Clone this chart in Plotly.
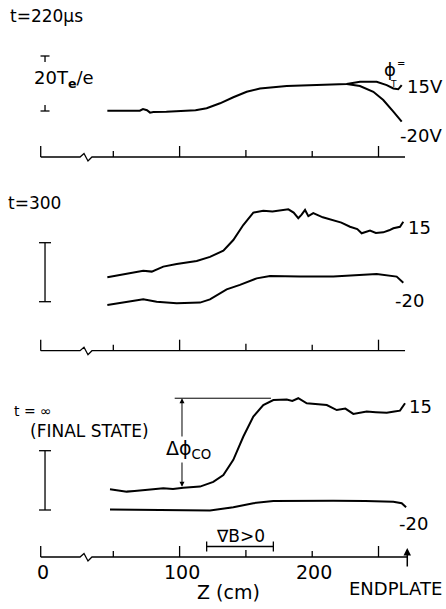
import plotly.graph_objects as go

W, H = 446, 609

# ---------------- data (z in cm, potential in units of Te/e) ----------------
# t = 220 us : common part, then the two tails
p1_common_z = [45.5, 55, 65, 70, 72.4, 75.4, 77.7, 80.2, 90, 102.8, 112, 120.4, 130.5,
               140.5, 150.6, 160.6, 170, 180.8, 192, 203.4, 215, 226.0]
p1_common_v = [0.1, 0.1, 0.0, 0.1, 0.7, 0.3, -0.6, -0.4, -0.3, -0.1, 0.3, 1.0, 2.8,
               5.0, 7.0, 8.2, 8.7, 9.1, 9.3, 9.4, 9.6, 9.8]
p1_15_tail_z = [236.0, 248.6, 256.2, 261.2, 264.9, 267.5]
p1_15_tail_v = [10.6, 10.6, 9.4, 8.2, 7.9, 9.4]
p1_m20_tail_z = [236.0, 246.1, 253.6, 261.2, 267.5]
p1_m20_tail_v = [9.1, 7.0, 4.0, -0.25, -3.9]

# t = 300
p2_15_z = [45.5, 52, 60.1, 66, 72.6, 79.0, 84, 87.7, 97.8, 105, 112.9, 122.9, 133.0,
           140.5, 148.0, 155.6, 163.1, 170, 175.7, 182.0, 186, 189.5, 192, 194.6, 197.1,
           200.8, 208, 215.9, 222, 228.5, 234, 237.3, 243.6, 248, 253.6, 258, 261.2,
           266.2, 268.7]
p2_15_v = [8.3, 8.8, 9.4, 9.8, 10.5, 10.2, 11.2, 11.9, 12.8, 13.3, 13.8, 15.2, 17.3,
           20.9, 26.0, 30.2, 30.8, 30.6, 30.9, 31.3, 30.2, 28.3, 29.5, 31.1, 29.0,
           30.0, 28.6, 27.5, 26.8, 25.4, 24.6, 23.2, 24.1, 23.3, 23.5, 24.2, 24.9,
           25.4, 27.1]
p2_m20_z = [45.5, 60.1, 72.6, 82.7, 97.8, 115.4, 122.9, 135.5, 145.5, 158.1, 168.2,
            190.8, 215.9, 248.6, 263.7, 268.7]
p2_m20_v = [-1.1, 0.0, 0.8, 0.0, -0.5, -0.3, 0.8, 4.2, 5.7, 7.9, 8.7, 8.5, 8.5, 9.4,
            8.5, 6.4]

# t = infinity (final state)
p3_15_z = [47.5, 55, 60.1, 66, 72.6, 80, 87.7, 95, 102.8, 115.4, 125.4, 133.0, 140.5,
           148.0, 155.6, 163.1, 170.7, 180.8, 185, 189.5, 195.9, 203, 211.0, 218.5,
           225, 231.0, 241.1, 248, 256.2, 262, 266.2, 270.0]
p3_15_v = [7.0, 6.5, 6.2, 6.4, 6.8, 7.0, 7.3, 7.1, 7.5, 7.9, 9.5, 11.8, 16.9, 24.7,
           31.5, 35.4, 37.1, 37.3, 36.8, 37.7, 36.0, 35.6, 35.4, 33.7, 34.2, 32.4,
           33.2, 33.0, 32.8, 33.2, 33.5, 36.0]
p3_m20_z = [47.5, 70, 90.3, 110, 122.9, 140.5, 155.6, 170.7, 190, 215.9, 240, 261.2,
            267.5, 270.8]
p3_m20_v = [0.2, 0.1, 0.0, -0.1, -0.2, 0.9, 2.3, 3.0, 3.1, 3.1, 3.0, 2.8, 2.3, 0.9]

tick_vals = [50, 100, 150, 200, 250]
tick_lbl_vals = [0, 100, 200]
grad_b_range = [120.4, 170.7]
endplate_z = 271.7
dphi_z = 101.8
dphi_range = [7.3, 37.7]
scale_bar = 20  # Te/e

# ---------------- layout helpers (pixel geometry of the page) ----------------
X_RANGE = [-35.45, 300.9]
Z_ZERO_DRAWN = -4.75          # position of the "0" tick left of the axis break
BREAK_Z = [24.9, 27.9, 30.9, 33.9]
AXIS_END = [270.0, 270.0, 271.7]
BAR_Z = -1.5

# panel: (zero_px, px_per_unit, band_top_px, band_bottom_px, axis_px)
panels = [
    (111.0, 2.75, 30, 170, 157.0),
    (301.7, 2.95, 190, 365, 350.7),
    (510.0, 2.965, 385, 575, 557.0),
]

def px2paper(px, py):
    return px / W, 1 - py / H

fig = go.Figure()
layout_axes = {}
base_vals = []
for i, (z0, ppu, top, bot, ax_px) in enumerate(panels):
    name = "yaxis" if i == 0 else f"yaxis{i+1}"
    layout_axes[name] = dict(domain=[1 - bot / H, 1 - top / H],
                             range=[(z0 - bot) / ppu, (z0 - top) / ppu],
                             visible=False, fixedrange=True)
    base_vals.append((z0 - ax_px) / ppu)

line = dict(color="black", width=2)
def add(z, v, yref):
    fig.add_trace(go.Scatter(x=z, y=v, mode="lines", line=line, yaxis=yref,
                             hoverinfo="skip", showlegend=False, cliponaxis=False))

add(p1_common_z + p1_15_tail_z, p1_common_v + p1_15_tail_v, "y")
add(p1_common_z[-1:] + p1_m20_tail_z, p1_common_v[-1:] + p1_m20_tail_v, "y")
add(p2_15_z, p2_15_v, "y2")
add(p2_m20_z, p2_m20_v, "y2")
add(p3_15_z, p3_15_v, "y3")
add(p3_m20_z, p3_m20_v, "y3")

shapes = []
thin = dict(color="black", width=1.3)
yrefs = ["y", "y2", "y3"]
for i, yr in enumerate(yrefs):
    b = base_vals[i]
    # axis line with break (zig-zag drawn in pixels)
    zz = [Z_ZERO_DRAWN, BREAK_Z[0], BREAK_Z[1], BREAK_Z[2], BREAK_Z[3], AXIS_END[i]]
    dy = [0, 0, 3.5, -4, 0, 0]
    ppu = panels[i][1]
    fig.add_trace(go.Scatter(x=zz, y=[b + d / ppu for d in dy], mode="lines",
                             line=thin, yaxis=yr, hoverinfo="skip", showlegend=False,
                             cliponaxis=False))
    # ticks
    lens = [11, 6, 11, 7, 6, 11]
    for zt, ln in zip([Z_ZERO_DRAWN] + tick_vals, lens):
        shapes.append(dict(type="line", xref="x", yref=yr, ysizemode="pixel",
                           yanchor=b, x0=zt, x1=zt, y0=0, y1=ln, line=thin))

# scale bars
for i, yr in enumerate(yrefs):
    if i == 0:
        for yv, d in [(scale_bar, -6), (0, 6)]:
            shapes.append(dict(type="line", xref="x", yref=yr, ysizemode="pixel",
                               yanchor=yv, x0=BAR_Z, x1=BAR_Z, y0=0, y1=d, line=thin))
            shapes.append(dict(type="line", xref="x", yref=yr, xsizemode="pixel",
                               xanchor=BAR_Z, x0=-4.5, x1=4.5, y0=yv, y1=yv, line=thin))
    else:
        shapes.append(dict(type="line", xref="x", yref=yr, x0=BAR_Z, x1=BAR_Z,
                           y0=0, y1=scale_bar, line=thin))
        for yv in (0, scale_bar):
            shapes.append(dict(type="line", xref="x", yref=yr, xsizemode="pixel",
                               xanchor=BAR_Z, x0=-6, x1=6, y0=yv, y1=yv, line=thin))

# grad B bracket
b3 = base_vals[2]
shapes.append(dict(type="line", xref="x", yref="y3", ysizemode="pixel", yanchor=b3,
                   x0=grad_b_range[0], x1=grad_b_range[1], y0=10.5, y1=10.5, line=thin))
for zb in grad_b_range:
    shapes.append(dict(type="line", xref="x", yref="y3", ysizemode="pixel", yanchor=b3,
                       x0=zb, x1=zb, y0=5.5, y1=15.5, line=thin))
# horizontal reference line for delta phi
shapes.append(dict(type="line", xref="x", yref="y3", x0=dphi_z - 5.5, x1=168.9,
                   y0=dphi_range[1], y1=dphi_range[1], line=dict(color="black", width=1)))

annotations = []
F = "DejaVu Sans"
def txt(text, px, py, size=18, xanchor="left", **kw):
    x, y = px2paper(px, py)
    annotations.append(dict(text=text, x=x, y=y, xref="paper", yref="paper",
                            xanchor=xanchor, yanchor="middle", showarrow=False,
                            font=dict(family=F, size=size, color="black"), **kw))

# delta-phi double arrow
annotations.append(dict(x=dphi_z, y=dphi_range[1], ax=dphi_z, ay=dphi_range[0],
                        xref="x", yref="y3", axref="x", ayref="y3", text="",
                        showarrow=True, arrowhead=2, arrowside="end+start",
                        arrowsize=1, arrowwidth=1, arrowcolor="black"))
# endplate arrow
annotations.append(dict(x=endplate_z, y=b3 + 9 / panels[2][1], ax=0, ay=20,
                        xref="x", yref="y3", text="", showarrow=True, arrowhead=2,
                        arrowsize=1, arrowwidth=1.5, arrowcolor="black"))

txt("t=220μs", 8, 16, 17)
txt("20T<sub><b>e</b></sub>/e", 64, 79, 18, xanchor="center")
txt("ϕ", 390, 70, 18, xanchor="center")
txt("=", 401, 64, 10, xanchor="center")
txt("T", 393, 84, 9, xanchor="center")
txt("15V", 405, 86, 18)
txt("-20V", 444, 136, 18, xanchor="right")

txt("t=300", 6, 203, 17)
txt("15", 406, 227, 18)
txt("-20", 393, 300, 18)

txt("t = ∞", 12, 411, 14)
txt("(FINAL STATE)", 28, 431, 17)
txt("Δϕ<sub>CO</sub>", 188, 449, 19, xanchor="center", bgcolor="white", borderpad=0)
txt("15", 407, 406, 18)
txt("-20", 397, 523, 18)
txt("∇B>0", 240, 536, 17, xanchor="center")

for v, zv in zip(tick_lbl_vals, [Z_ZERO_DRAWN] + tick_lbl_vals[1:]):
    px = (zv - X_RANGE[0]) / (X_RANGE[1] - X_RANGE[0]) * W
    txt(str(v), px + 2, 572, 19, xanchor="center")
txt("Z (cm)", 228, 592, 19, xanchor="center")
txt("ENDPLATE", 395, 588, 18, xanchor="center")

fig.update_layout(
    width=W, height=H, margin=dict(l=0, r=0, t=0, b=0),
    paper_bgcolor="white", plot_bgcolor="white",
    xaxis=dict(range=X_RANGE, domain=[0, 1], visible=False, fixedrange=True),
    shapes=shapes, annotations=annotations, showlegend=False,
    **layout_axes,
)
fig.write_html("out.html", config={"displayModeBar": False})
